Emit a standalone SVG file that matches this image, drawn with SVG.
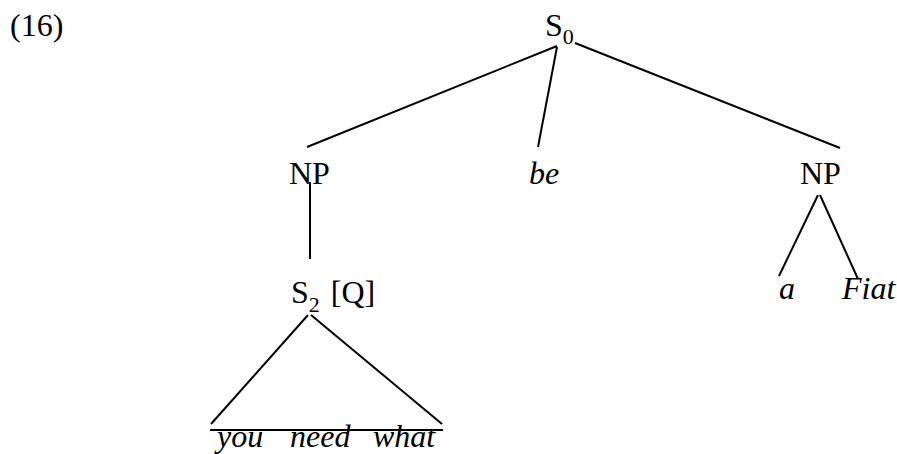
<svg xmlns="http://www.w3.org/2000/svg" width="897" height="454" viewBox="0 0 897 454">
<style>
text{font-family:'Liberation Serif','Times New Roman',Times,serif;font-size:32px;fill:#000}
.i{font-style:italic}
.sub{font-size:22px}
.e line{stroke:#000;stroke-width:2}
</style>
<rect width="897" height="454" fill="#fff"/>
<text x="10" y="36">(16)</text>
<g class="e" id="connectors">
<line x1="557" y1="46" x2="307" y2="147"/>
<line x1="557" y1="47" x2="538" y2="147"/>
<line x1="575" y1="43" x2="840" y2="148"/>
<line x1="310" y1="182" x2="310" y2="259"/>
<line x1="308" y1="315" x2="211" y2="424"/>
<line x1="311" y1="315" x2="442" y2="424"/>
<line x1="210" y1="430" x2="443" y2="430"/>
<line x1="818" y1="195" x2="779" y2="276"/>
<line x1="820" y1="195" x2="858" y2="279"/>
</g>
<g id="S0"><text x="545" y="36">S<tspan class="sub" dy="8">0</tspan></text></g>
<g id="NP1"><text x="289" y="184">NP</text></g>
<g id="be"><text class="i" x="529" y="184">be</text></g>
<g id="NP2"><text x="800" y="184">NP</text></g>
<g id="S2"><text x="291" y="303">S<tspan class="sub" dy="9">2</tspan><tspan dy="-9" dx="3"> [Q]</tspan></text></g>
<g id="a"><text class="i" x="779" y="299">a</text></g>
<g id="Fiat"><text class="i" x="842" y="299">Fiat</text></g>
<g id="yna"><text class="i" x="217" y="447">you</text><text class="i" x="290" y="447">need</text><text class="i" x="373" y="447">what</text></g>
</svg>
